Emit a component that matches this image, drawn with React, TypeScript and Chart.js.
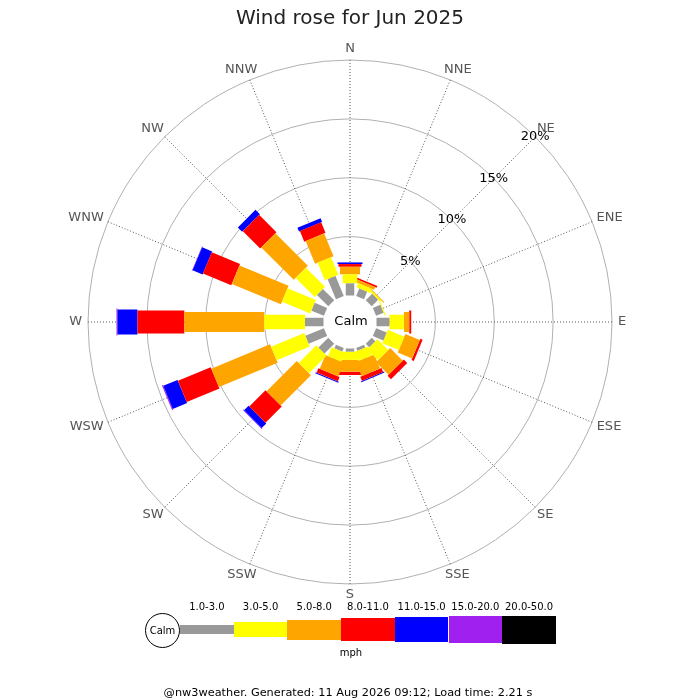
import React, { useEffect, useRef } from 'react';
import { Chart, registerables, PolarAreaController, ArcElement } from 'chart.js';

// ---------------- data ----------------
const directions = ['N', 'NNE', 'NE', 'ENE', 'E', 'ESE', 'SE', 'SSE', 'S', 'SSW', 'SW', 'WSW', 'W', 'WNW', 'NW', 'NNW'];
const speedBands = ['1.0-3.0', '3.0-5.0', '5.0-8.0', '8.0-11.0', '11.0-15.0', '15.0-20.0', '20.0-50.0'];

// percentage of time per direction (N, NNE, ... NNW) for each speed band
const band1to3 = [1.03, 0.68, 0.77, 0.68, 1.10, 0.97, 0.43, 0.25, 0.27, 0.32, 1.17, 1.70, 1.57, 1.14, 1.36, 1.84];
const band3to5 = [0.77, 0.38, 0.15, 0.10, 1.23, 1.52, 1.30, 0.83, 0.70, 0.82, 2.12, 3.05, 3.47, 2.61, 2.30, 1.61];
const band5to8 = [0.64, 0.25, 0.08, 0, 0.45, 1.32, 1.51, 1.30, 1.00, 1.27, 3.63, 5.40, 6.78, 4.51, 3.90, 2.09];
const band8to11 = [0.23, 0.15, 0, 0, 0.17, 0.21, 0.41, 0.37, 0.28, 0.39, 1.95, 3.01, 3.98, 2.60, 2.08, 0.97];
const band11to15 = [0.14, 0, 0, 0, 0, 0, 0, 0.09, 0, 0.10, 0.55, 1.32, 1.70, 0.92, 0.52, 0.34];
const band15to20 = [0, 0, 0, 0, 0, 0, 0, 0, 0, 0, 0.05, 0.09, 0.08, 0.04, 0, 0];
const band20to50 = [0, 0, 0, 0, 0, 0, 0, 0, 0, 0, 0, 0, 0, 0, 0, 0];
const seriesValues = [band1to3, band3to5, band5to8, band8to11, band11to15, band15to20, band20to50];

const rTicks = [5, 10, 15, 20];
const rMax = 20;
const rMin = -2.25; // room for the calm circle: 0% sits on its edge

const titleText = 'Wind rose for Jun 2025';
const calmText = 'Calm';
const unitText = 'mph';
const footerText = '@nw3weather. Generated: 11 Aug 2026 09:12; Load time: 2.21 s';

// ---------------- styles ----------------
const FONT = "'DejaVu Sans', sans-serif";
const bandColors = ['#999999', '#ffff00', '#ffa500', '#ff0000', '#0000ff', '#a020f0', '#000000'];
const bandThickness = [8.5, 14.5, 20, 23, 25, 27, 28];

// ---------------- custom Chart.js pieces ----------------
class WindBarElement extends ArcElement {
  static id = 'windBar';
  static defaults = { barWidth: 10, borderWidth: 0 };
  draw(ctx: CanvasRenderingContext2D) {
    const self: any = this;
    const { x, y, startAngle, endAngle, innerRadius, outerRadius } = self;
    const o = self.options;
    const len = outerRadius - innerRadius;
    if (!(len > 0)) return;
    const a = (startAngle + endAngle) / 2;
    ctx.save();
    ctx.translate(x, y);
    ctx.rotate(a);
    ctx.fillStyle = o.backgroundColor;
    ctx.fillRect(innerRadius, -o.barWidth / 2, len, o.barWidth);
    ctx.restore();
  }
}

class WindRoseController extends PolarAreaController {
  static id = 'windRose';
  static defaults = { dataElementType: 'windBar' };
  updateElement(element: any, index: number, properties: any, mode: any) {
    const self: any = this;
    if (properties && properties.outerRadius !== undefined && index !== undefined) {
      const scale = self._cachedMeta.rScale;
      const datasets = self.chart.data.datasets;
      const dsIndex = self.index;
      let base = 0;
      for (let j = 0; j < dsIndex; j++) base += Number(datasets[j].data[index]) || 0;
      const value = Number(datasets[dsIndex].data[index]) || 0;
      const centre = scale.getIndexAngle(index) - Math.PI / 2;
      const half = Math.PI / 64;
      properties.innerRadius = scale.getDistanceFromCenterForValue(base);
      properties.outerRadius = scale.getDistanceFromCenterForValue(base + value);
      properties.startAngle = centre - half;
      properties.endAngle = centre + half;
    }
    super.updateElement(element, index, properties, mode);
  }
}

Chart.register(...registerables, WindBarElement, WindRoseController);

const decorPlugin = {
  id: 'windRoseDecor',
  beforeDatasetsDraw(chart: any) {
    const s = chart.scales.r;
    const ctx = chart.ctx;
    const r0 = s.getDistanceFromCenterForValue(0);
    ctx.save();
    ctx.beginPath();
    ctx.arc(s.xCenter, s.yCenter, r0, 0, Math.PI * 2);
    ctx.fillStyle = '#ffffff';
    ctx.fill();
    ctx.restore();
  },
  afterDatasetsDraw(chart: any) {
    const s = chart.scales.r;
    const ctx = chart.ctx;
    ctx.save();
    ctx.font = `13px ${FONT}`;
    ctx.textAlign = 'center';
    ctx.textBaseline = 'middle';
    ctx.fillStyle = '#000000';
    ctx.fillText(calmText, s.xCenter + 1, s.yCenter);
    // compass point labels
    ctx.fillStyle = '#555555';
    (chart.data.labels as string[]).forEach((lab, i) => {
      const ang = s.getIndexAngle(i);
      const w = ctx.measureText(lab).width;
      const p = s.getPointPosition(i, s.drawingArea + 6);
      const px = p.x + Math.sin(ang) * w / 2;
      const py = p.y - Math.cos(ang) * 5;
      ctx.fillText(lab, px, py);
    });
    // radial tick labels along NE
    ctx.fillStyle = '#000000';
    rTicks.forEach((v) => {
      const p = s.getPointPosition(2, s.getDistanceFromCenterForValue(v));
      ctx.fillText(v + '%', p.x, p.y);
    });
    ctx.restore();
  },
};

export default function App() {
  const ref = useRef<HTMLCanvasElement | null>(null);

  useEffect(() => {
    if (!ref.current) return;
    const chart = new Chart(ref.current, {
      type: 'windRose' as any,
      data: {
        labels: directions,
        datasets: seriesValues.map((vals, k) => ({
          label: speedBands[k],
          data: vals,
          backgroundColor: bandColors[k],
          barWidth: bandThickness[k],
          borderWidth: 0,
        })) as any,
      },
      options: {
        responsive: false,
        animation: false,
        events: [],
        layout: { padding: { left: 88, right: 88, top: 0, bottom: 116 } },
        plugins: {
          legend: { display: false },
          tooltip: { enabled: false },
          title: {
            display: true,
            text: titleText,
            color: '#222222',
            font: { family: FONT, size: 20, weight: 'normal' },
            padding: { top: 7, bottom: 29 },
          },
        },
        scales: {
          r: {
            type: 'radialLinear',
            min: rMin,
            max: rMax,
            startAngle: 0,
            ticks: { display: false },
            afterBuildTicks: (s: any) => {
              s.ticks = rTicks.map((v) => ({ value: v }));
            },
            grid: { display: true, circular: true, color: '#b0b0b0', lineWidth: 1 },
            angleLines: { display: true, color: '#555555', lineWidth: 1, borderDash: [1, 2] },
            pointLabels: { display: false },
          },
        },
      } as any,
      plugins: [decorPlugin],
    });
    return () => chart.destroy();
  }, []);

  const legendLeft = 180;
  const legendStep = 53.7;
  const legendMid = 629.5;

  return (
    <div style={{ position: 'absolute', left: 0, top: 0, width: 700, height: 700, background: '#ffffff', fontFamily: FONT, color: '#000' }}>
      <canvas ref={ref} width={700} height={700} style={{ display: 'block', width: 700, height: 700 }} />
      {speedBands.map((b, i) => (
        <React.Fragment key={b}>
          <div
            style={{
              position: 'absolute',
              left: legendLeft + i * legendStep,
              width: legendStep,
              top: legendMid - bandThickness[i] / 2,
              height: bandThickness[i],
              background: bandColors[i],
            }}
          />
          <div
            style={{
              position: 'absolute',
              left: legendLeft + i * legendStep + legendStep / 2,
              top: 607,
              transform: 'translate(-50%, -50%)',
              fontSize: 10,
              lineHeight: 1,
              whiteSpace: 'nowrap',
            }}
          >
            {b}
          </div>
        </React.Fragment>
      ))}
      <div
        style={{
          position: 'absolute',
          left: 145,
          top: 612.5,
          width: 35,
          height: 35,
          boxSizing: 'border-box',
          border: '1px solid #000',
          borderRadius: '50%',
          background: '#fff',
          display: 'flex',
          alignItems: 'center',
          justifyContent: 'center',
          fontSize: 10,
        }}
      >
        {calmText}
      </div>
      <div style={{ position: 'absolute', left: 351, top: 653, transform: 'translate(-50%, -50%)', fontSize: 10, lineHeight: 1 }}>
        {unitText}
      </div>
      <div style={{ position: 'absolute', left: 348, top: 693, transform: 'translate(-50%, -50%)', fontSize: 11.3, lineHeight: 1, whiteSpace: 'nowrap' }}>
        {footerText}
      </div>
    </div>
  );
}
